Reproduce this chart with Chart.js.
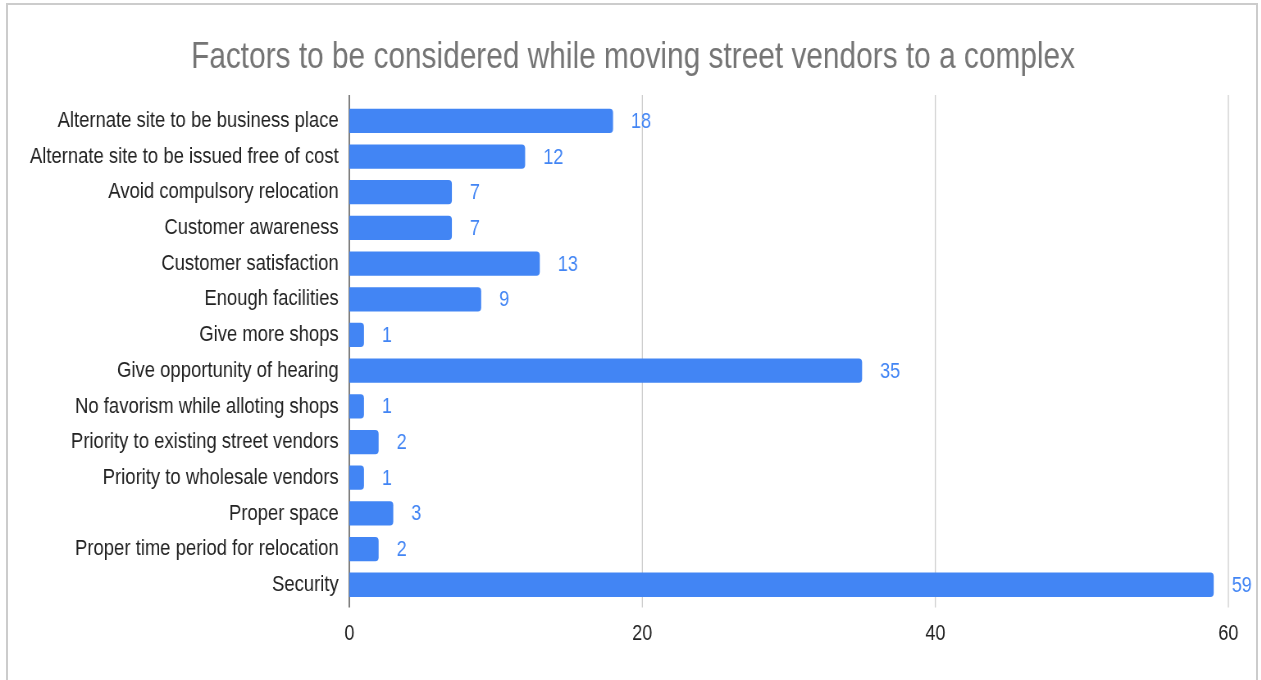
<!DOCTYPE html>
<html>
<head>
<meta charset="utf-8">
<script src="https://cdn.jsdelivr.net/npm/chart.js@4"></script>
<style>
  html, body { margin: 0; padding: 0; background: #fff; overflow: hidden; }
  #wrap { position: relative; width: 1261px; height: 680px; overflow: hidden; }
  #frame { position: absolute; left: 6px; top: 3px; width: 1248px; height: 720px; border: 2px solid #cccccc; }
  /* el grafico se dibuja mas ancho y se comprime en horizontal */
  #lienzo { position: absolute; left: 0; top: 0; width: 1538px; height: 680px; transform: scaleX(0.82); transform-origin: 0 0; }
</style>
</head>
<body>
<div id="wrap">
  <div id="frame"></div>
  <div id="lienzo"><canvas id="myChart" width="1538" height="680"></canvas></div>
</div>
<script>
var titulo = 'Factors to be considered while moving street vendors to a complex';
var factores = [
  'Alternate site to be business place',
  'Alternate site to be issued free of cost',
  'Avoid compulsory relocation',
  'Customer awareness',
  'Customer satisfaction',
  'Enough facilities',
  'Give more shops',
  'Give opportunity of hearing',
  'No favorism while alloting shops',
  'Priority to existing street vendors',
  'Priority to wholesale vendors',
  'Proper space',
  'Proper time period for relocation',
  'Security'
];
var cantidades = [18, 12, 7, 7, 13, 9, 1, 35, 1, 2, 1, 3, 2, 59];
var ticksX = [0, 20, 40, 60];

var azul = '#4285f4';
var fuente = "'Liberation Sans', Arial, sans-serif";

// titulo centrado en todo el ancho (el de Chart.js se corre por el padding)
var tituloPlugin = {
  id: 'tituloPlugin',
  afterDraw: function(chart) {
    var ctx = chart.ctx;
    ctx.save();
    ctx.font = '36.4px ' + fuente;
    ctx.fillStyle = '#757575';
    ctx.textAlign = 'center';
    ctx.textBaseline = 'alphabetic';
    ctx.fillText(titulo, 772, 68);
    ctx.restore();
  }
};

// lineas verticales que sobresalen un poco del area, como en Sheets
var lineasGrid = {
  id: 'lineasGrid',
  beforeDatasetsDraw: function(chart) {
    var ctx = chart.ctx;
    var area = chart.chartArea;
    var x = chart.scales.x;
    ctx.save();
    ctx.lineWidth = 1.25;
    for (var i = 0; i < ticksX.length; i++) {
      var px = x.getPixelForValue(ticksX[i]);
      ctx.strokeStyle = ticksX[i] === 0 ? '#333333' : '#cccccc';
      ctx.beginPath();
      ctx.moveTo(px, area.top - 8);
      ctx.lineTo(px, area.bottom + 5);
      ctx.stroke();
    }
    ctx.restore();
  }
};

// etiquetas con el valor a la derecha de cada barra
var etiquetas = {
  id: 'etiquetas',
  afterDatasetsDraw: function(chart) {
    var ctx = chart.ctx;
    var meta = chart.getDatasetMeta(0);
    ctx.save();
    ctx.font = '22px ' + fuente;
    ctx.fillStyle = azul;
    ctx.textAlign = 'left';
    ctx.textBaseline = 'middle';
    meta.data.forEach(function(bar, i) {
      ctx.fillText(String(cantidades[i]), bar.x + 22, bar.y + 1);
    });
    ctx.restore();
  }
};

var graficar = document.getElementById('myChart');
var grafico = new Chart(graficar, {
  type: 'bar',
  data: {
    labels: factores,
    datasets: [{
      label: 'Cantidad',
      data: cantidades,
      backgroundColor: azul,
      borderRadius: 4,
      borderSkipped: 'start',
      barPercentage: 0.68,
      categoryPercentage: 1
    }]
  },
  plugins: [lineasGrid, etiquetas, tituloPlugin],
  options: {
    indexAxis: 'y',
    responsive: false,
    animation: false,
    devicePixelRatio: 1,
    layout: { padding: { left: 0, right: 40, top: 103, bottom: 23 } },
    plugins: {
      legend: { display: false },
      tooltip: { enabled: false },
      title: { display: false }
    },
    scales: {
      x: {
        min: 0,
        max: 60,
        afterBuildTicks: function(scale) {
          scale.ticks = ticksX.map(function(v) { return { value: v }; });
        },
        grid: { display: false },
        border: { display: false },
        ticks: {
          color: '#222222',
          font: { family: fuente, size: 22 },
          padding: 10
        }
      },
      y: {
        afterFit: function(scale) { scale.width = 426; },
        grid: { display: false },
        border: { display: false },
        ticks: {
          color: '#222222',
          font: { family: fuente, size: 22.5 },
          padding: 5,
          autoSkip: false
        }
      }
    }
  }
});
</script>
</body>
</html>
